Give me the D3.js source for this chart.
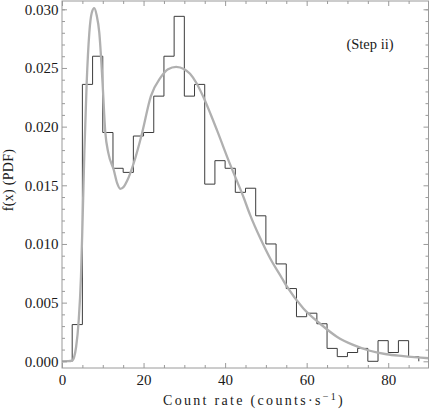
<!DOCTYPE html>
<html>
<head>
<meta charset="utf-8">
<script src="https://cdn.jsdelivr.net/npm/d3@7"></script>
<style>
  html, body { margin: 0; padding: 0; background: #fff; }
  svg { display: block; }
  text { font-family: "Liberation Serif", "DejaVu Serif", serif; fill: #1a1a1a; }
</style>
</head>
<body>
<svg id="chart" width="429" height="412"></svg>
<script>
// ---- data ----
const binStarts = [0, 2.5, 5, 7.5, 10, 12.5, 15, 17.5, 20, 22.5, 25, 27.5, 30, 32.5, 35, 37.5,
  40, 42.5, 45, 47.5, 50, 52.5, 55, 57.5, 60, 62.5, 65, 67.5, 70, 72.5, 75, 77.5, 80, 82.5, 85];
const binWidth = 2.5;
const binDensity = [0, 0.00313, 0.0236, 0.0260, 0.0195, 0.01645, 0.0161, 0.0192, 0.0195, 0.0226,
  0.0260, 0.0294, 0.0226, 0.0236, 0.0151, 0.0171, 0.01645, 0.0144, 0.01475, 0.0124, 0.0100,
  0.0083, 0.0062, 0.0038, 0.0041, 0.0032, 0.0011, 0.0004, 0.00075, 0.0011, 0, 0.00176,
  0.00075, 0.00176, 0.0004];

const curveX = [0, 1.5, 2.5, 3.0, 3.45, 4.1, 4.65, 5.07, 5.5, 6.05, 6.7, 7.3, 7.9, 8.5, 9.15,
  9.95, 10.6, 11.4, 12.7, 13.5, 14.3, 15.2, 16.0, 17.6, 19.6, 21.8, 24.2, 26.0, 28.0, 30.0,
  31.4, 33.0, 34.7, 36.4, 38.0, 41.2, 44.5, 46.1, 48.6, 51.0, 53.9, 55.1, 59.2, 63.3, 67.4,
  71.4, 75.5, 79.6, 83.7, 90];
const curveY = [0, 0.00001, 0.00006, 0.0004, 0.0012, 0.0035, 0.0072, 0.0123, 0.0180, 0.0237,
  0.0280, 0.0297, 0.0301, 0.0295, 0.0280, 0.0237, 0.0196, 0.0177, 0.0163, 0.0152, 0.0147,
  0.0149, 0.0154, 0.0169, 0.0194, 0.0226, 0.0242, 0.0249, 0.0251, 0.0249, 0.0245, 0.0237,
  0.0225, 0.0211, 0.0197, 0.0168, 0.0140, 0.0125, 0.0105, 0.0088, 0.0071, 0.0064, 0.0045,
  0.0032, 0.0021, 0.0014, 0.0009, 0.0006, 0.00045, 0.00026];

const xMajorTicks = [0, 20, 40, 60, 80];
const xMinorTicks = [5, 10, 15, 25, 30, 35, 45, 50, 55, 65, 70, 75, 85];
const yMajorTicks = [0, 0.005, 0.010, 0.015, 0.020, 0.025, 0.030];
const yMinorTicks = [0.001, 0.002, 0.003, 0.004, 0.006, 0.007, 0.008, 0.009, 0.011, 0.012,
  0.013, 0.014, 0.016, 0.017, 0.018, 0.019, 0.021, 0.022, 0.023, 0.024, 0.026, 0.027, 0.028,
  0.029, 0.030];

const xLabel = "Count rate (counts\u00B7s";
const xLabelSup = "\u22121";
const yLabel = "f(x) (PDF)";
const panelLabel = "(Step ii)";

// ---- layout ----
const svg = d3.select("#chart");
const frame = { left: 62, right: 428.5, top: 1, bottom: 368 };
const x = d3.scaleLinear().domain([0, 90]).range([62, 429]);
const y = d3.scaleLinear().domain([0, 0.030]).range([361.3, 9.3]);
const frameColor = "#9a9a9a";

// histogram step path
const stepPts = [[0, 0]];
binStarts.forEach((s, i) => {
  stepPts.push([s, binDensity[i]]);
  stepPts.push([s + binWidth, binDensity[i]]);
});
stepPts.push([binStarts[binStarts.length - 1] + binWidth, 0]);

svg.append("path")
  .datum(stepPts)
  .attr("fill", "none")
  .attr("stroke", "#3c3c3c")
  .attr("stroke-width", 1)
  .attr("d", d3.line().x(d => x(d[0])).y(d => y(d[1])));

// fitted curve
const curvePts = curveX.map((v, i) => [v, curveY[i]]);
svg.append("path")
  .datum(curvePts)
  .attr("fill", "none")
  .attr("stroke", "#b0b0b0")
  .attr("stroke-width", 2.3)
  .attr("stroke-linejoin", "round")
  .attr("d", d3.line().x(d => x(d[0])).y(d => y(d[1])).curve(d3.curveMonotoneX));

// frame
svg.append("rect")
  .attr("x", frame.left).attr("y", frame.top)
  .attr("width", frame.right - frame.left).attr("height", frame.bottom - frame.top)
  .attr("fill", "none").attr("stroke", frameColor).attr("stroke-width", 1);

function styleAxis(g) {
  g.select(".domain").remove();
  g.selectAll(".tick line").attr("stroke", frameColor);
  g.selectAll("text").attr("fill", "#1a1a1a")
    .style("font-family", '"Liberation Serif", serif').style("font-size", "15px");
}

// bottom
svg.append("g").attr("transform", `translate(0,${frame.bottom})`)
  .call(d3.axisBottom(x).tickValues(xMajorTicks).tickSize(-5).tickPadding(6).tickFormat(d3.format("d")))
  .call(styleAxis);
svg.append("g").attr("transform", `translate(0,${frame.bottom})`)
  .call(d3.axisBottom(x).tickValues(xMinorTicks).tickSize(-3).tickFormat(""))
  .call(styleAxis);
// top
svg.append("g").attr("transform", `translate(0,${frame.top})`)
  .call(d3.axisTop(x).tickValues(xMajorTicks).tickSize(-5).tickFormat(""))
  .call(styleAxis);
svg.append("g").attr("transform", `translate(0,${frame.top})`)
  .call(d3.axisTop(x).tickValues(xMinorTicks).tickSize(-3).tickFormat(""))
  .call(styleAxis);
// left
svg.append("g").attr("transform", `translate(${frame.left},0)`)
  .call(d3.axisLeft(y).tickValues(yMajorTicks).tickSize(-5).tickPadding(3.5).tickFormat(d3.format(".3f")))
  .call(styleAxis);
svg.append("g").attr("transform", `translate(${frame.left},0)`)
  .call(d3.axisLeft(y).tickValues(yMinorTicks).tickSize(-3).tickFormat(""))
  .call(styleAxis);
// right
svg.append("g").attr("transform", `translate(${frame.right},0)`)
  .call(d3.axisRight(y).tickValues(yMajorTicks).tickSize(-5).tickFormat(""))
  .call(styleAxis);
svg.append("g").attr("transform", `translate(${frame.right},0)`)
  .call(d3.axisRight(y).tickValues(yMinorTicks).tickSize(-3).tickFormat(""))
  .call(styleAxis);

// x label
const xl = svg.append("text")
  .attr("x", 254).attr("y", 405)
  .attr("text-anchor", "middle")
  .style("font-size", "14px");
xl.append("tspan").text(xLabel);
xl.append("tspan").attr("dy", -5).style("font-size", "10px").text(xLabelSup);
xl.append("tspan").attr("dy", 5).text(")");
{
  const w = xl.node().getComputedTextLength();
  const n = (xLabel + xLabelSup + ")").length;
  xl.style("letter-spacing", ((182 - w) / n) + "px");
}

// y label
svg.append("text")
  .attr("transform", "translate(13,180) rotate(-90)")
  .attr("text-anchor", "middle")
  .style("font-size", "14px")
  .style("letter-spacing", "0.3px")
  .text(yLabel);

// panel label
svg.append("text")
  .attr("x", 370).attr("y", 49)
  .attr("text-anchor", "middle")
  .style("font-size", "14.5px")
  .text(panelLabel);
</script>
</body>
</html>
